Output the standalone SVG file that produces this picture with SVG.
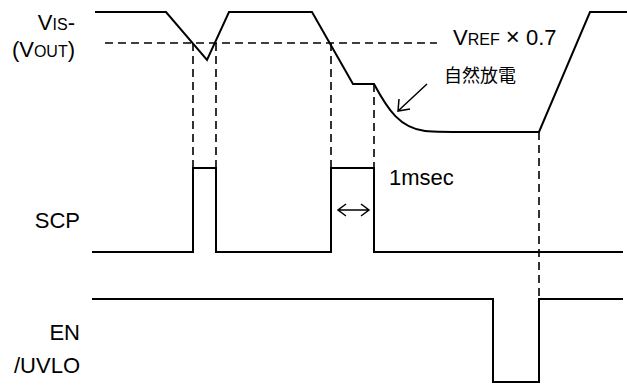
<svg xmlns="http://www.w3.org/2000/svg" width="627" height="385" viewBox="0 0 627 385">
<defs>
<style>
.w{fill:none;stroke:#000;stroke-width:2;stroke-linejoin:miter}
.d{fill:none;stroke:#000;stroke-width:1.6;stroke-dasharray:8,5}
.t{font-family:"Liberation Sans",Arial,sans-serif;font-size:22px;fill:#000}
.s{font-size:16px}
.j{font-family:"Noto Sans CJK JP","Noto Sans CJK SC",sans-serif;font-size:18px;fill:#000}
.a{fill:none;stroke:#000;stroke-width:1.5}
</style>
</defs>
<rect width="627" height="385" fill="#fff"/>
<g id="connectors">
<line class="d" x1="105" y1="43" x2="437" y2="43"/>
<line class="d" x1="193" y1="43" x2="193" y2="168"/>
<line class="d" x1="216" y1="43" x2="216" y2="168"/>
<line class="d" x1="331" y1="43" x2="331" y2="168"/>
<line class="d" x1="374" y1="84" x2="374" y2="168"/>
<line class="d" x1="539" y1="132" x2="539" y2="299"/>
<path class="a" d="M427,84 L398,111 M399,99 L398,111 L410,109"/>
<path class="a" d="M338,210 L369,210 M346,204 L338,210 L346,216 M361,204 L369,210 L361,216"/>
</g>
<g id="vis">
<text class="t" x="75" y="30" text-anchor="end">V<tspan class="s">IS</tspan>-</text>
<text class="t" x="75" y="57" text-anchor="end">(V<tspan class="s">OUT</tspan>)</text>
<path class="w" d="M95,12 L166,12 L207,60 L229,12 L312,12 L353,84 L374,84 C388,110 400,128 425,131 C440,132.5 460,132 539,132 L590,12 L627,12"/>
</g>
<g id="vref">
<text class="t" x="453" y="45">V<tspan class="s">REF</tspan> <tspan font-size="24">×</tspan> 0.7</text>
</g>
<g id="discharge">
<text class="j" x="444" y="82">自然放電</text>
</g>
<g id="scp">
<text class="t" x="80" y="228" text-anchor="end">SCP</text>
<path class="w" d="M92,252 L193,252 L193,168 L216,168 L216,252 L331,252 L331,168 L374,168 L374,252 L623,252"/>
<text class="t" x="389" y="185">1msec</text>
</g>
<g id="en">
<text class="t" x="80" y="340" text-anchor="end">EN</text>
<text class="t" x="80" y="373" text-anchor="end">/UVLO</text>
<path class="w" d="M92,299 L493,299 L493,382 L539,382 L539,299 L623,299"/>
</g>
</svg>
